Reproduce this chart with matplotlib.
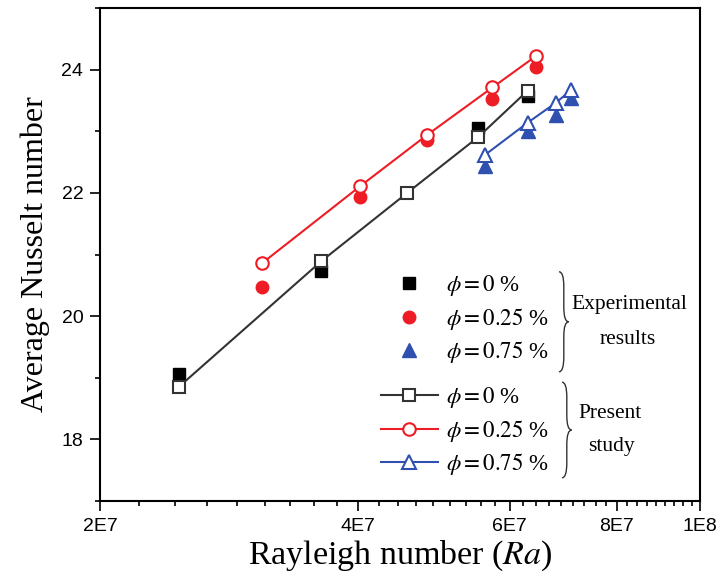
import numpy as np
import matplotlib.pyplot as plt
from matplotlib.lines import Line2D
from matplotlib.path import Path
from matplotlib.patches import PathPatch
from matplotlib.ticker import FixedLocator, NullFormatter

plt.rcParams['font.family'] = 'Liberation Serif'
plt.rcParams['mathtext.fontset'] = 'stix'

# Experimental results
ra_exp_0 = [2.47e7, 3.62e7, 5.52e7, 6.30e7]
nu_exp_0 = [19.06, 20.74, 23.05, 23.57]
ra_exp_025 = [3.09e7, 4.02e7, 4.81e7, 5.73e7, 6.44e7]
nu_exp_025 = [20.48, 21.93, 22.86, 23.52, 24.05]
ra_exp_075 = [5.61e7, 6.30e7, 6.79e7, 7.08e7]
nu_exp_075 = [22.43, 23.00, 23.27, 23.54]

# Present study
ra_num_0 = [2.47e7, 3.62e7, 4.56e7, 5.52e7, 6.30e7]
nu_num_0 = [18.85, 20.89, 22.00, 22.91, 23.66]
ra_num_025 = [3.09e7, 4.02e7, 4.81e7, 5.73e7, 6.44e7]
nu_num_025 = [20.86, 22.11, 22.94, 23.71, 24.22]
ra_num_075 = [5.61e7, 6.30e7, 6.79e7, 7.08e7]
nu_num_075 = [22.61, 23.14, 23.46, 23.67]

x_ticks = [2e7, 4e7, 6e7, 8e7, 1e8]
x_labels = ['2E7', '4E7', '6E7', '8E7', '1E8']
y_ticks = [18, 20, 22, 24]
phi_labels = [r'$\phi = 0$ %', r'$\phi = 0.25$ %', r'$\phi = 0.75$ %']

black = '#000000'
dark = '#333333'
red = '#ee1c25'
blue = '#3050b0'

fig = plt.figure(figsize=(7.21, 5.82), dpi=100)
ax = fig.add_axes([100 / 721, 1 - 501 / 582, 600 / 721, 493 / 582])

# experimental points first, present study drawn on top
ax.plot(ra_exp_0, nu_exp_0, ls='none', marker='s', ms=8, color=black)
ax.plot(ra_exp_025, nu_exp_025, ls='none', marker='o', ms=9, color=red)
ax.plot(ra_exp_075, nu_exp_075, ls='none', marker='^', ms=10, color=blue)

mk = dict(mfc='white', mew=1.5, lw=1.5)
ax.plot(ra_num_0, nu_num_0, marker='s', ms=8, color=dark, **mk)
ax.plot(ra_num_025, nu_num_025, marker='o', ms=9, color=red, **mk)
ax.plot(ra_num_075, nu_num_075, marker='^', ms=10, color=blue, **mk)

ax.set_xscale('log')
ax.set_xlim(2e7, 1e8)
ax.set_ylim(17, 25)
ax.xaxis.set_major_locator(FixedLocator(x_ticks))
ax.set_xticklabels(x_labels)
ax.xaxis.set_minor_locator(FixedLocator(np.arange(2e7, 1e8 + 1, 2e7 / 9)))
ax.xaxis.set_minor_formatter(NullFormatter())
ax.set_yticks(y_ticks)
ax.yaxis.set_minor_locator(FixedLocator([17, 19, 21, 23, 25]))

for lab in ax.get_xticklabels() + ax.get_yticklabels():
    lab.set_fontfamily('Liberation Sans')
    lab.set_fontsize(14)
ax.tick_params(which='major', direction='out', length=7, width=1.2, pad=5)
ax.tick_params(which='minor', direction='out', length=3.5, width=1.2)
for s in ax.spines.values():
    s.set_linewidth(1.5)

ax.set_xlabel('Rayleigh number ($Ra$)', fontsize=24.5, labelpad=3)
ax.set_ylabel('Average Nusselt number', fontsize=23, labelpad=8)

# legends: experimental group, then present study group
exp_handles = [
    Line2D([], [], ls='none', marker='s', ms=8, color=black),
    Line2D([], [], ls='none', marker='o', ms=9, color=red),
    Line2D([], [], ls='none', marker='^', ms=10, color=blue),
]
num_handles = [
    Line2D([], [], marker='s', ms=8, color=dark, **mk),
    Line2D([], [], marker='o', ms=9, color=red, **mk),
    Line2D([], [], marker='^', ms=10, color=blue, **mk),
]
leg_kw = dict(loc='upper left', frameon=False, fontsize=16.5, handlelength=2.5,
              handletextpad=0.35, labelspacing=0.33, borderpad=0, borderaxespad=0)
leg1 = ax.legend(exp_handles, phi_labels, bbox_to_anchor=(0.468, 0.462), **leg_kw)
ax.add_artist(leg1)
ax.legend(num_handles, phi_labels, bbox_to_anchor=(0.468, 0.235), **leg_kw)


def brace(x0, yt, yb, w=0.016, r=0.03):
    ym = (yt + yb) / 2
    xm = x0 + w / 2
    verts = [(x0, yt), (xm, yt), (xm, yt - r),
             (xm, ym + r),
             (xm, ym), (x0 + w, ym),
             (xm, ym), (xm, ym - r),
             (xm, yb + r),
             (xm, yb), (x0, yb)]
    codes = [Path.MOVETO, Path.CURVE3, Path.CURVE3,
             Path.LINETO,
             Path.CURVE3, Path.CURVE3,
             Path.CURVE3, Path.CURVE3,
             Path.LINETO,
             Path.CURVE3, Path.CURVE3]
    ax.add_patch(PathPatch(Path(verts, codes), fc='none', ec=dark, lw=1.0,
                           transform=ax.transAxes, clip_on=False))


brace(0.765, 0.465, 0.262)
brace(0.770, 0.241, 0.047)

grp = dict(transform=ax.transAxes, ha='center', va='center', fontsize=15.5)
ax.text(0.883, 0.398, 'Experimental', **grp)
ax.text(0.880, 0.327, 'results', **grp)
ax.text(0.850, 0.178, 'Present', **grp)
ax.text(0.853, 0.110, 'study', **grp)

fig.savefig('out.png', dpi=100)
